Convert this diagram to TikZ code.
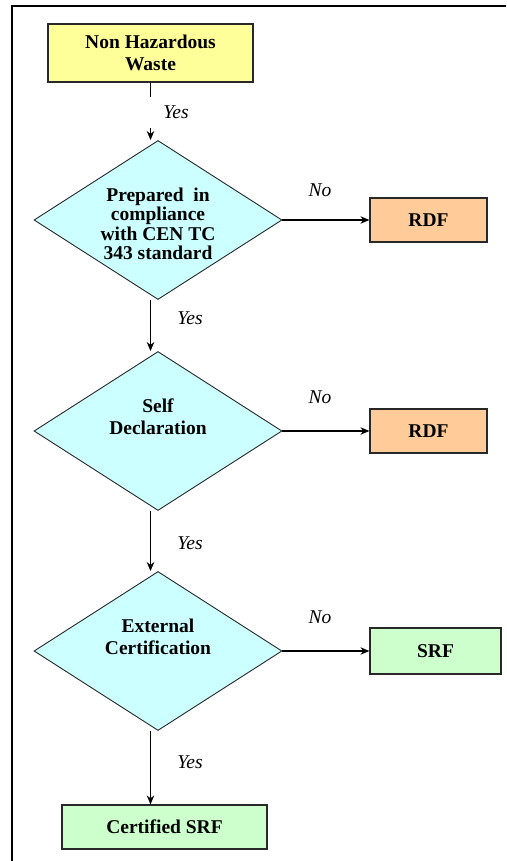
\documentclass[tikz,border=0pt]{standalone}
\usepackage{fontspec}
\setmainfont{Liberation Serif}
\usepackage{tikz}
\usetikzlibrary{positioning, shapes.geometric, arrows.meta}
\usepackage{color}
\definecolor{wasteyellow}{RGB}{255, 255, 153}
\definecolor{checkcyan}{RGB}{204, 255, 255}
\definecolor{rdforange}{RGB}{255, 204, 153}
\definecolor{srfgreen}{RGB}{204, 255, 204}
\definecolor{edge}{RGB}{40, 40, 40}

\begin{document}
\begin{tikzpicture}[x=1pt, y=1pt, every node/.style={fill=white, font=\fontsize{19.5}{22}\selectfont}]
    \tikzstyle{block} = [draw=edge, rectangle, line width=1.2pt, align=center, inner sep=0pt, font=\bfseries\fontsize{19.5}{22}\selectfont]
    \tikzstyle{decision} = [draw=edge, diamond, aspect=1.56, minimum width=248pt, minimum height=159pt, inner sep=0pt, align=center, fill=checkcyan, line width=0.9pt, font=\bfseries\fontsize{19.5}{22.5}\selectfont]
    \tikzstyle{arrow} = [line width=1.1pt, ->, >={Stealth[length=9pt, width=7.5pt]}, draw=black]
    \tikzstyle{answer} = [font=\itshape\fontsize{19.5}{22}\selectfont, inner sep=1pt]

    \useasboundingbox (0,0) rectangle (506,-861);
    \draw [line width=1.6pt] (12,-861) -- (12,-6) -- (506,-6);

    % Main column
    \node (waste) [block, fill=wasteyellow, minimum width=205pt, minimum height=58pt] at (150.5,-53) {Non Hazardous\\Waste};
    \node (cen) [decision, below of=waste, node distance=167pt, xshift=7.5pt, text height=80pt, font=\bfseries\fontsize{19.5}{19.5}\selectfont] {Prepared\ \ in\\compliance\\with CEN TC\\343 standard};
    \node (self) [decision, below of=cen, node distance=211pt, text depth=29pt] {Self\\Declaration};
    \node (extern) [decision, below of=self, node distance=220pt, text depth=29pt] {External\\Certification};
    \node (certsrf) [block, fill=srfgreen, minimum width=205pt, minimum height=44pt, below of=extern, node distance=176pt, xshift=6.5pt] {Certified SRF};

    % Side outcomes
    \node (rdf1) [block, fill=rdforange, minimum width=117pt, minimum height=44pt, right of=cen, node distance=270.5pt] {RDF};
    \node (rdf2) [block, fill=rdforange, minimum width=117pt, minimum height=44pt, right of=self, node distance=270.5pt] {RDF};
    \node (srf) [block, fill=srfgreen, minimum width=131pt, minimum height=46pt, right of=extern, node distance=277.5pt] {SRF};

    % Arrows
    \draw [arrow] (waste.south) -- (waste.south |- cen.north);
    \draw [arrow] (waste.south |- cen.south) -- (waste.south |- self.north);
    \draw [arrow] (waste.south |- self.south) -- (waste.south |- extern.north);
    \draw [arrow] (waste.south |- extern.south) -- (waste.south |- certsrf.north);
    \draw [arrow] (cen.east) -- (cen.east -| rdf1.west);
    \draw [arrow] (self.east) -- (self.east -| rdf2.west);
    \draw [arrow] (extern.east) -- (extern.east -| srf.west);

    % Answers
    \node (yes1) [answer, minimum width=62pt, minimum height=31pt] at (176,-112.5) {Yes};
    \node (yes2) [answer] at (190,-318) {Yes};
    \node (yes3) [answer] at (190,-543) {Yes};
    \node (yes4) [answer] at (190,-762) {Yes};
    \node (no1) [answer] at (320,-190) {No};
    \node (no2) [answer] at (320,-397) {No};
    \node (no3) [answer] at (320,-617) {No};
\end{tikzpicture}
\end{document}
